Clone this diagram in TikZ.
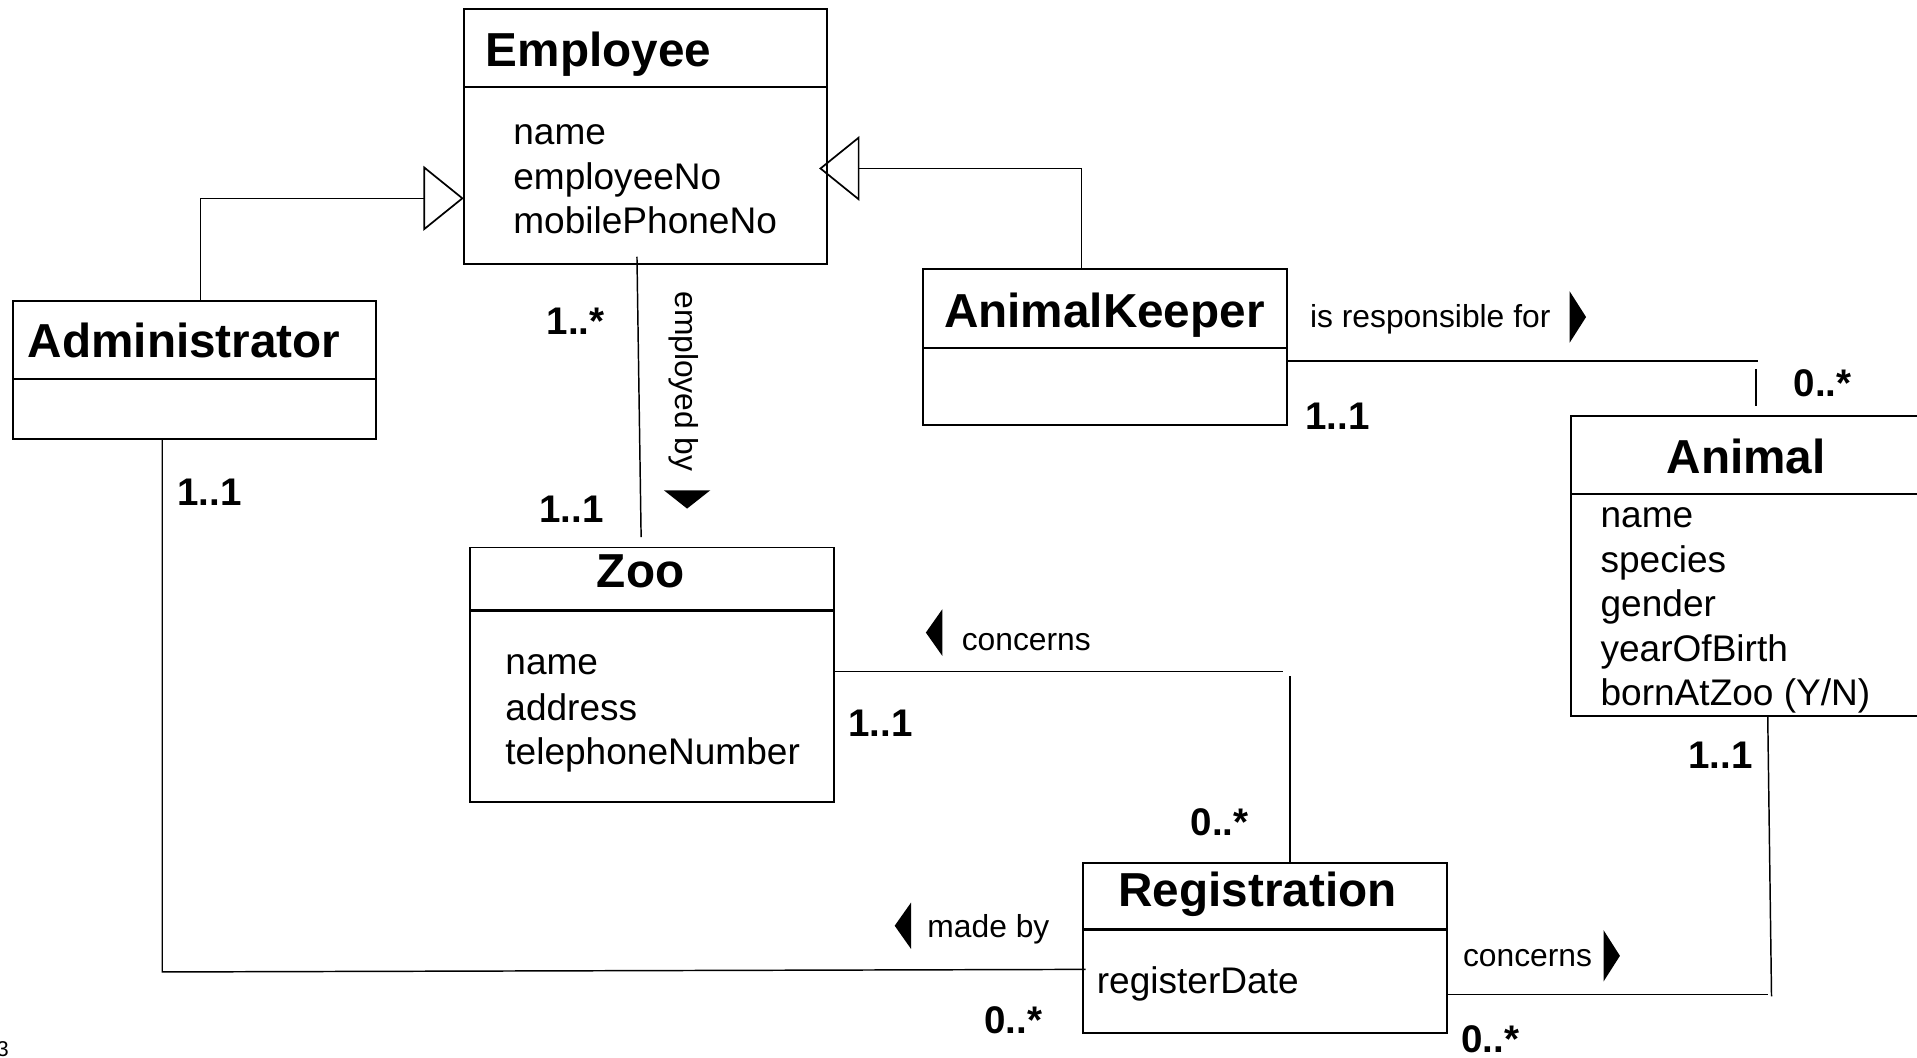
\documentclass[tikz,border=0pt]{standalone}
\usepackage{fontspec}
\setmainfont{Liberation Sans}
\usetikzlibrary{arrows.meta}
\tikzset{
  mkR/.pic={\fill (-6.7,-21) -- (6.7,0) -- (-6.7,21) -- cycle;},
  mkL/.pic={\fill (6.7,-19) -- (-6.7,0) -- (6.7,19) -- cycle;},
  mkD/.pic={\fill (-19,-7.5) -- (19,-7.5) -- (0,7.5) -- cycle;}
}
\begin{document}
\begin{tikzpicture}[x=1pt,y=-1pt,
  box/.style={draw, line width=1.6pt, inner sep=0pt, outer sep=0pt, anchor=north west},
  div/.style={line width=2pt},
  assoc/.style={line width=1.2pt},
  gen/.style={line width=1.2pt, -{Triangle[open,length=33pt,width=53pt,line width=1.4pt]}},
  ttl/.style={font=\fontsize{39}{45}\selectfont\bfseries, inner sep=0pt},
  attr/.style={font=\fontsize{30.3}{36}\selectfont, inner sep=0pt, anchor=base west},
  mult/.style={font=\fontsize{31.5}{36}\selectfont\bfseries, inner sep=0pt, anchor=base west},
  lbl/.style={font=\fontsize{26}{30}\selectfont, inner sep=0pt, anchor=base west}
]
\useasboundingbox (0,0) rectangle (1568,865);
\begin{scope}
\clip (0,0) rectangle (1568,865);

% ---------- class boxes ----------
\node[box, minimum width=297pt, minimum height=208.3pt] (emp) at (379.3,7.7) {};
\draw[div] (emp.west |- 0,71.3) -- (emp.east |- 0,71.3);
\node[ttl, anchor=base west] (empT) at (397.2,54.4) {Employee};
\node[attr] (empA1) at (419.7,118.3) {name};
\node[attr] (empA2) at (419.7,154.7) {employeeNo};
\node[attr] (empA3) at (419.7,191.2) {mobilePhoneNo};

\node[box, minimum width=296.5pt, minimum height=113pt] (admin) at (11,246) {};
\draw[div] (admin.west |- 0,310) -- (admin.east |- 0,310);
\node[ttl, anchor=base west] (adminT) at (22.6,292) {Administrator};

\node[box, minimum width=297.6pt, minimum height=127.6pt] (ak) at (754.7,220.3) {};
\draw[div] (ak.west |- 0,284.6) -- (ak.east |- 0,284.6);
\node[ttl, anchor=base west] (akT) at (772,267.5) {AnimalKeeper};

\node[box, minimum width=286pt, minimum height=245.5pt] (animal) at (1285.2,339.9) {};
\draw[div] (animal.west |- 0,404) -- (animal.east |- 0,404);
\node[ttl, anchor=base] (animalT) at (1428.3,386.9) {Animal};
\node[attr] (anA1) at (1309,431.6) {name};
\node[attr] (anA2) at (1309,467.9) {species};
\node[attr] (anA3) at (1309,504.3) {gender};
\node[attr] (anA4) at (1309,540.9) {yearOfBirth};
\node[attr] (anA5) at (1309,577.4) {bornAtZoo (Y/N)};

\node[box, minimum width=298pt, minimum height=208.2pt] (zoo) at (384.2,447.8) {};
\draw[div] (zoo.west |- 0,499.3) -- (zoo.east |- 0,499.3);
\node[ttl, anchor=base] (zooT) at (524,480.7) {Zoo};
\node[attr] (zooA1) at (413.2,552) {name};
\node[attr] (zooA2) at (413.2,589.6) {address};
\node[attr] (zooA3) at (413.2,625.6) {telephoneNumber};

\node[box, minimum width=297.1pt, minimum height=138.6pt] (reg) at (886.2,706.1) {};
\draw[div] (reg.west |- 0,760.2) -- (reg.east |- 0,760.2);
\node[ttl, anchor=base] (regT) at (1028.5,741.6) {Registration};
\node[attr] (regA1) at (897,812.5) {registerDate};

% ---------- generalizations ----------
\coordinate (ga) at (163.8,162.2);
\draw[gen] (admin.north -| ga) |- (emp.west |- ga);
\coordinate (gk) at (884.7,137.8);
\coordinate (gkt) at (670,137.8);
\draw[gen] (ak.north -| gk) |- (gkt);

% ---------- associations ----------
\coordinate (ez1) at (521,210);
\coordinate (ez2) at (524.4,439.3);
\draw[assoc] (ez1) -- (ez2);

\coordinate (ka1) at (1438,295.1);
\coordinate (ka2) at (1436.3,301.7);
\coordinate (ka3) at (1436.3,332.1);
\draw[assoc] (ak.east |- ka1) -- (ka1);
\draw[assoc] (ka2) -- (ka3);

\coordinate (ar1) at (132.7,795);
\coordinate (ar2) at (888,792.9);
\draw[assoc] (admin.south -| ar1) -- (ar1) -- (ar2);

\coordinate (zr1) at (1049,549.4);
\coordinate (zr2) at (1055,553);
\draw[assoc] (zoo.east |- zr1) -- (zr1);
\draw[assoc] (zr2) -- (reg.north -| zr2);

\coordinate (ra1) at (1446,813.3);
\coordinate (ra2) at (1445.9,585.4);
\coordinate (ra3) at (1449,815);
\draw[assoc] (reg.east |- ra1) -- (ra1);
\draw[assoc] (ra2) -- (ra3);

% ---------- association labels ----------
\node[lbl, anchor=center, rotate=-90] (lEmp) at (559,312) {employed by};
\pic at (562,408.5) {mkD};
\node[lbl] (lResp) at (1071.4,267.5) {is responsible for};
\pic at (1290.6,259.3) {mkR};
\node[lbl] (lConc1) at (786.5,531.7) {concerns};
\pic at (764,517.4) {mkL};
\node[lbl] (lMade) at (758.4,766.7) {made by};
\pic at (738.5,757.2) {mkL};
\node[lbl] (lConc2) at (1196.5,790.7) {concerns};
\pic at (1318.3,781.8) {mkR};

% ---------- multiplicities ----------
\node[mult] (m1) at (447,273.6) {1..*};
\node[mult] (m2) at (441,427.3) {1..1};
\node[mult] (m3) at (145,413.6) {1..1};
\node[mult] (m4) at (1067.6,350.9) {1..1};
\node[mult] (m5) at (1467,324.7) {0..*};
\node[mult] (m6) at (693.6,602.2) {1..1};
\node[mult] (m7) at (973.8,683) {0..*};
\node[mult] (m8) at (805,845.2) {0..*};
\node[mult] (m9) at (1380.7,628.5) {1..1};
\node[mult] (m10) at (1195,861) {0..*};

% ---------- page number fragment ----------
\node[font=\fontsize{17.5}{20}\selectfont, inner sep=0pt, anchor=base east] (pg) at (7.4,864) {3};
\end{scope}
\end{tikzpicture}
\end{document}
